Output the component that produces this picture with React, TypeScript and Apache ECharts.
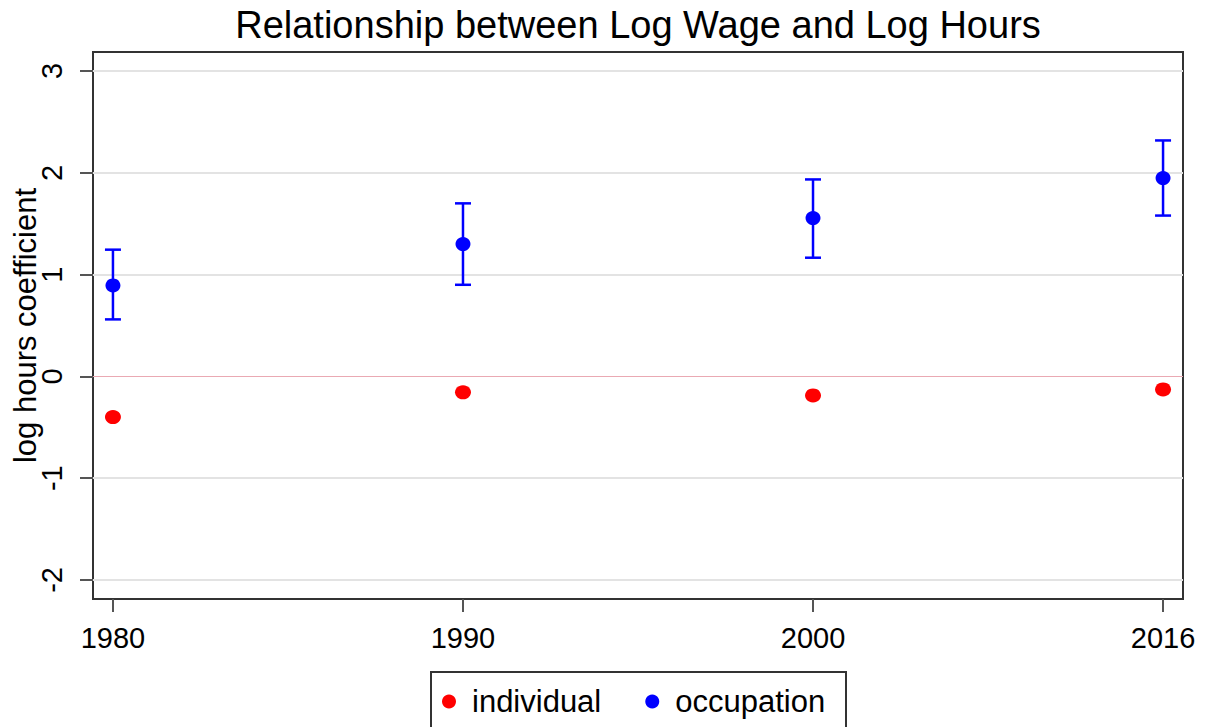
import React, { useEffect, useRef } from "react";
import * as echarts from "echarts";

const years = ["1980", "1990", "2000", "2016"];
const individual = [-0.4, -0.157, -0.187, -0.128];
const occupation = [0.894, 1.3, 1.555, 1.948];
const occLow = [0.56, 0.9, 1.166, 1.58];
const occHigh = [1.245, 1.7, 1.935, 2.318];
const yTicks = [-2, -1, 0, 1, 2, 3];
const xTicks = [0, 1, 2, 3];

const FONT = "'Liberation Sans', Arial, sans-serif";

export default function App() {
  const ref = useRef<HTMLDivElement>(null);
  useEffect(() => {
    if (!ref.current) return;
    const chart = echarts.init(ref.current, null, { renderer: "svg" });
    const gridColor = "#e3e3e3";
    chart.setOption({
      animation: false,
      backgroundColor: "#ffffff",
      textStyle: { fontFamily: FONT },
      title: {
        text: "Relationship between Log Wage and Log Hours",
        left: 638,
        textAlign: "center",
        top: 6,
        padding: 0,
        textStyle: { fontSize: 38, fontWeight: "normal", color: "#000", fontFamily: FONT },
      },
      grid: {
        left: 93,
        right: 27,
        top: 52,
        bottom: 128,
        outerBoundsMode: "none",
        containLabel: false,
        show: true,
        borderColor: "#333",
        borderWidth: 2,
        backgroundColor: "transparent",
      },
      legend: {
        data: ["individual", "occupation"],
        left: 442,
        top: 686,
        padding: 0,
        icon: "circle",
        itemWidth: 36,
        itemHeight: 14,
        itemGap: 44,
        textStyle: { fontSize: 31, color: "#000", fontFamily: FONT },
      },
      graphic: [
        {
          type: "rect",
          shape: { x: 431, y: 672, width: 415, height: 90 },
          style: { fill: "none", stroke: "#333", lineWidth: 2 },
          silent: true,
        },
      ],
      xAxis: {
        type: "value",
        min: -0.057,
        max: 3.057,
        axisLine: { show: false, onZero: false },
        axisTick: {
          show: true,
          customValues: xTicks,
          length: 13,
          lineStyle: { color: "#555", width: 2 },
        },
        axisLabel: {
          customValues: xTicks,
          formatter: (v: number) => years[Math.round(v)] ?? "",
          fontSize: 29,
          color: "#000",
          margin: 24,
          fontFamily: FONT,
        },
        splitLine: { show: false },
      },
      yAxis: {
        type: "value",
        min: -2.187,
        max: 3.187,
        name: "log hours coefficient",
        nameLocation: "middle",
        nameGap: 52,
        nameMoveOverlap: false,
        nameRotate: 90,
        nameTextStyle: { fontSize: 31, color: "#000", fontFamily: FONT },
        axisLine: { show: false, onZero: false },
        axisTick: {
          show: true,
          customValues: yTicks,
          length: 13,
          lineStyle: { color: "#555", width: 2 },
        },
        axisLabel: {
          customValues: yTicks,
          rotate: 90,
          fontSize: 29,
          color: "#000",
          margin: 27,
          fontFamily: FONT,
        },
        splitLine: {
          show: true,
          lineStyle: {
            color: [gridColor, gridColor, "rgba(0,0,0,0)", gridColor, gridColor, gridColor],
            width: 2,
          },
        },
      },
      series: [
        {
          name: "errorbars",
          type: "custom",
          data: xTicks.map((i) => [i, occLow[i], occHigh[i]]),
          encode: { x: 0, y: [1, 2] },
          renderItem: (params: any, api: any) => {
            const x = api.value(0);
            const lo = api.coord([x, api.value(1)]);
            const hi = api.coord([x, api.value(2)]);
            const half = 8;
            const style = { stroke: "#0000ff", lineWidth: 2.5 };
            return {
              type: "group",
              children: [
                { type: "line", shape: { x1: lo[0], y1: lo[1], x2: hi[0], y2: hi[1] }, style },
                { type: "line", shape: { x1: lo[0] - half, y1: lo[1], x2: lo[0] + half, y2: lo[1] }, style },
                { type: "line", shape: { x1: hi[0] - half, y1: hi[1], x2: hi[0] + half, y2: hi[1] }, style },
              ],
            };
          },
          z: 2,
          silent: true,
        },
        {
          name: "individual",
          type: "scatter",
          data: xTicks.map((i) => [i, individual[i]]),
          symbol: "circle",
          symbolSize: [16, 14],
          itemStyle: { color: "#ff0000", opacity: 1 },
          z: 3,
          markLine: {
            silent: true,
            symbol: "none",
            label: { show: false },
            lineStyle: { color: "#eaa9b3", width: 1, type: "solid" },
            data: [{ yAxis: 0 }],
            z: 1,
          },
        },
        {
          name: "occupation",
          type: "scatter",
          data: xTicks.map((i) => [i, occupation[i]]),
          symbol: "circle",
          symbolSize: [15, 14],
          itemStyle: { color: "#0000ff", opacity: 1 },
          z: 4,
        },
      ],
    });
    return () => chart.dispose();
  }, []);
  return (
    <div
      ref={ref}
      style={{ position: "absolute", left: 0, top: 0, width: 1210, height: 727 }}
    />
  );
}
